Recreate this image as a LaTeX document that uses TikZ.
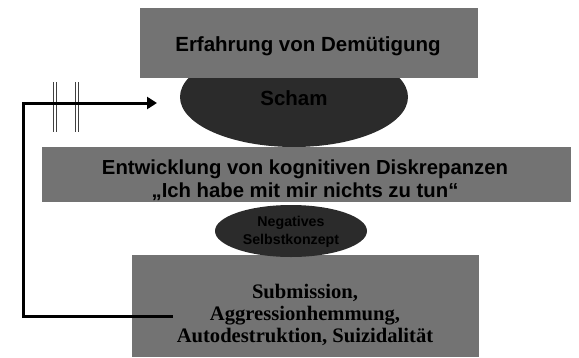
\documentclass[tikz,border=0pt]{standalone}
\usepackage{fontspec}
\setmainfont{Liberation Sans}
\newfontfamily\timesbf{Liberation Serif}[BoldFont={* Bold}]
\usetikzlibrary{shapes.geometric,arrows.meta}
\definecolor{boxgray}{HTML}{737373}
\definecolor{ovaldark}{HTML}{2B2B2B}
\begin{document}
\begin{tikzpicture}[x=1pt,y=-1pt,
  graybox/.style={fill=boxgray,draw=none,inner sep=0pt},
  oval/.style={ellipse,fill=ovaldark,draw=none,inner sep=0pt},
  lbl/.style={font=\bfseries,text=black,align=center},
  feedback/.style={line width=3pt,-{Triangle[length=10pt,width=12pt]}},
  cutbar/.style={draw=gray!50!black,line width=1pt,double=white,double distance=1.5pt}]
\useasboundingbox (0,0) rectangle (579,357);
% Scham ellipse (behind top box)
\node[oval,minimum width=228pt,minimum height=100pt] (scham) at (294,97) {};
\node[graybox,minimum width=338pt,minimum height=70pt] (erf) at (309,43) {};
\node[lbl,font=\bfseries\fontsize{20.5}{24}\selectfont] at (308,46) {Erfahrung von Demütigung};
\node[lbl,font=\bfseries\fontsize{20.5}{24}\selectfont] (schamtxt) at (294,98) {Scham};
% middle box
\node[graybox,minimum width=529pt,minimum height=55pt] (entw) at (306.5,174.5) {};
\node[lbl,font=\bfseries\fontsize{20.3}{22.5}\selectfont] at (305,180) {Entwicklung von kognitiven Diskrepanzen\\„Ich habe mit mir nichts zu tun“};
% bottom box
\node[graybox,minimum width=347pt,minimum height=102pt] (sub) at (305.5,306) {};
\node[lbl,font=\timesbf\bfseries\fontsize{20.6}{22}\selectfont] at (305,315) {Submission,\\Aggressionhemmung,\\Autodestruktion, Suizidalität};
% Negatives Selbstkonzept ellipse
\node[oval,minimum width=152pt,minimum height=52pt] (neg) at (291,231) {};
\node[lbl,font=\bfseries\fontsize{14.2}{17.5}\selectfont] at (291,232) {Negatives\\Selbstkonzept};
% interruption bars
\coordinate (b1t) at (55,82); \coordinate (b1b) at (55,132);
\coordinate (b2t) at (77,82); \coordinate (b2b) at (77,132);
\draw[cutbar] (b1t) -- (b1b);
\draw[cutbar] (b2t) -- (b2b);
% feedback arrow
\coordinate (start) at (173,316);
\coordinate (corner1) at (23,316);
\coordinate (corner2) at (23,103);
\coordinate (tip) at (157,103);
\draw[feedback] (start) -- (corner1) -- (corner2) -- (tip);
\end{tikzpicture}
\end{document}
